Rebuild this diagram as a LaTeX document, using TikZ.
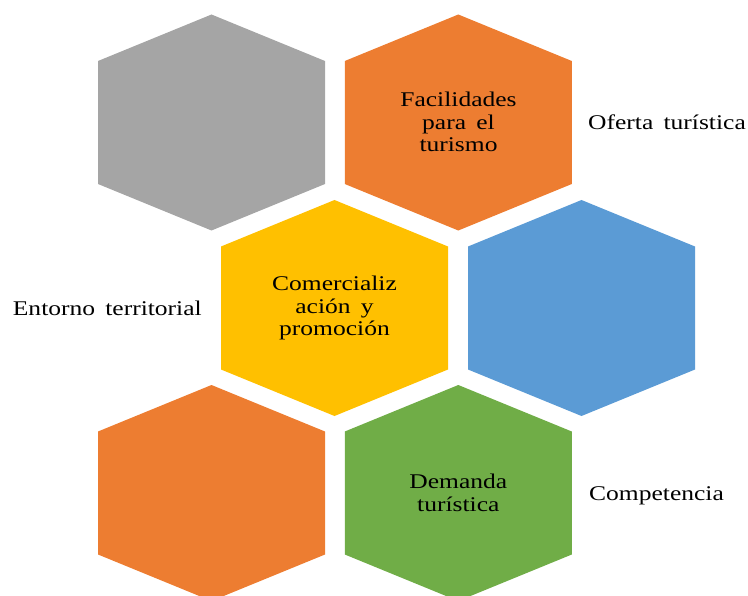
\documentclass[tikz,border=0pt]{standalone}
\usepackage{fontspec}
\setmainfont[FakeStretch=1.22, WordSpace=1.6]{Liberation Serif}
\definecolor{hgray}{HTML}{A5A5A5}
\definecolor{horange}{HTML}{ED7D31}
\definecolor{hyellow}{HTML}{FFC000}
\definecolor{hblue}{HTML}{5B9BD5}
\definecolor{hgreen}{HTML}{70AD47}
\tikzset{
  hextext/.style={align=center, inner sep=0pt, font=\fontsize{21}{22.5}\selectfont, text=black},
  sidelabel/.style={anchor=base west, inner sep=0pt, font=\fontsize{21}{22.5}\selectfont, text=black},
}
\begin{document}
\begin{tikzpicture}[x=1bp,y=-1bp]
\useasboundingbox (0,0) rectangle (748,596);
\clip (0,0) rectangle (748,596);
\foreach \cx/\cy/\col in {211.5/122.5/hgray, 458.3/122.5/horange, 334.5/308/hyellow, 581.5/308/hblue, 211.5/493/horange, 458.3/493/hgreen}{
  \fill[\col, shift={(\cx,\cy)}] (0,-108) -- (113.5,-61.5) -- (113.5,61.5) -- (0,108) -- (-113.5,61.5) -- (-113.5,-61.5) -- cycle;
}
\node[hextext] (fac) at (458.5,122) {Facilidades\\para el\\turismo};
\node[hextext] (com) at (334.5,308) {Comercializ\\ación y\\promoción};
\node[hextext] (dem) at (458.3,493) {Demanda\\turística};
\node[sidelabel] (ofe) at (588,129.3) {Oferta turística};
\node[sidelabel] (ent) at (12.7,315) {Entorno territorial};
\node[sidelabel] (cmp) at (589,500) {Competencia};
\end{tikzpicture}
\end{document}
